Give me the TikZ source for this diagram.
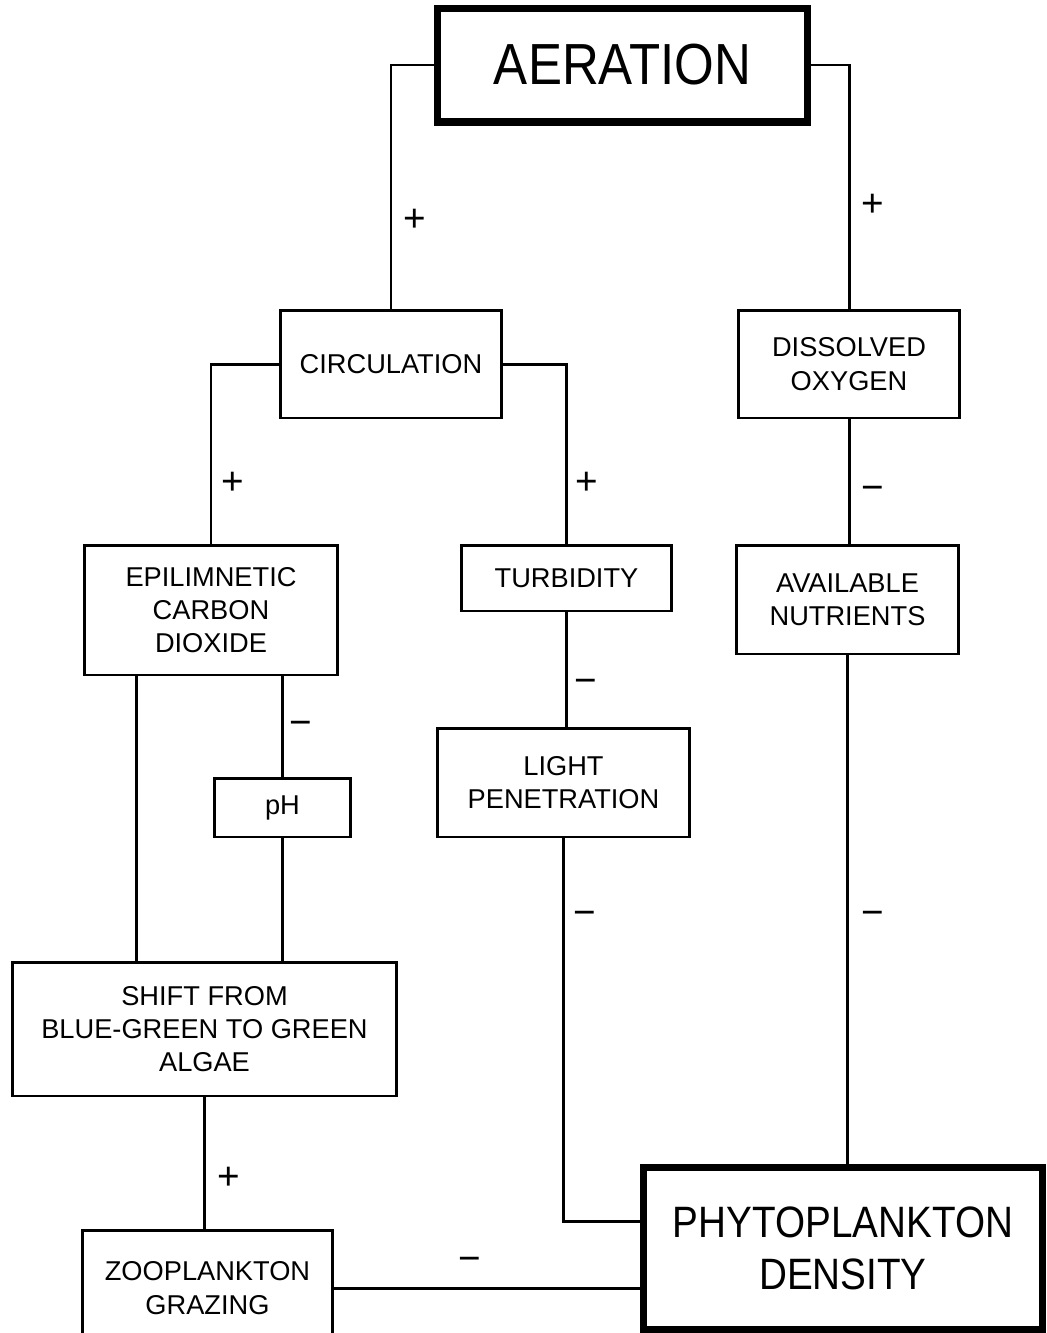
\documentclass[tikz,border=0pt]{standalone}
\usepackage{fontspec}
\setmainfont{Liberation Sans}
\newfontfamily\narrowfont[FakeStretch=0.88]{Liberation Sans}
\usetikzlibrary{calc}

\tikzset{
  box/.style={draw, line width=1.7pt, inner sep=0pt, align=center, font=\fontsize{15.5}{19}\selectfont},
  bigbox/.style={box, line width=4pt},
  sign/.style={inner sep=0pt, font=\fontsize{22}{22}\selectfont},
  link/.style={line width=1.7pt}
}

\begin{document}
\begin{tikzpicture}[x=0.02cm, y=-0.02cm]
		\useasboundingbox (0,0) rectangle (1046,1333);

		\node(aeration)  [bigbox, minimum width=7.42cm, minimum height=2.28cm, font=\narrowfont\fontsize{33}{33}\selectfont] at (622.5,65)  {AERATION};
		\node(circulation)  [box, minimum width=4.44cm, minimum height=2.16cm] at (391,364)  {CIRCULATION};
		\node(oxygen)  [box, minimum width=4.44cm, minimum height=2.16cm] at (849,364)  {DISSOLVED\\OXYGEN};
		\node(epilimnetic)  [box, minimum width=5.08cm, minimum height=2.6cm] at (211,610)  {EPILIMNETIC\\CARBON\\DIOXIDE};
		\node(turbidity)  [box, minimum width=4.22cm, minimum height=1.32cm] at (566.5,578)  {TURBIDITY};
		\node(nutrients)  [box, minimum width=4.46cm, minimum height=2.18cm] at (847.5,599.5)  {AVAILABLE\\NUTRIENTS};
		\node(light)  [box, minimum width=5.06cm, minimum height=2.18cm] at (563.5,782.5)  {LIGHT\\PENETRATION};
		\node(ph)  [box, minimum width=2.74cm, minimum height=1.18cm] at (282.5,807.5)  {pH};
		\node(shift)  [box, minimum width=7.7cm, minimum height=2.68cm] at (204.5,1029)  {SHIFT FROM\\BLUE-GREEN TO GREEN\\ALGAE};
		\node(zooplankton)  [box, minimum width=5.02cm, minimum height=2.32cm] at (207.5,1288)  {ZOOPLANKTON\\GRAZING};
		\node(phytoplankton)  [bigbox, minimum width=8cm, minimum height=3.26cm, font=\narrowfont\fontsize{25}{30}\selectfont] at (843,1248.5)  {PHYTOPLANKTON\\DENSITY};

		% signs on the links
		\node(sign1)  [sign] at (415,220)  {+};
		\node(sign2)  [sign] at (873,205)  {+};
		\node(sign3)  [sign] at (233,483)  {+};
		\node(sign4)  [sign] at (587,483)  {+};
		\node(sign5)  [sign] at (873,493)  {−};
		\node(sign6)  [sign] at (586,686)  {−};
		\node(sign7)  [sign] at (301,728)  {−};
		\node(sign8)  [sign] at (585,918)  {−};
		\node(sign9)  [sign] at (873,918)  {−};
		\node(sign10)  [sign] at (229,1178)  {+};
		\node(sign11)  [sign] at (470,1264)  {−};

		\draw[link] (aeration.west) -| (circulation.north);
		\draw[link] (aeration.east) -| (oxygen.north);
		\draw[link] (circulation.west) -| (epilimnetic.north);
		\draw[link] (circulation.east) -| (turbidity.north);
		\draw[link] (oxygen.south) -- (oxygen.south |- nutrients.north);
		\draw[link] (turbidity.south) -- (turbidity.south |- light.north);
		\draw[link] (ph.north |- epilimnetic.south) -- (ph.north);
		\coordinate (epileg) at ([xshift=1.08cm]epilimnetic.south west);
		\draw[link] (epileg) -- (epileg |- shift.north);
		\draw[link] (ph.south) -- (ph.south |- shift.north);
		\draw[link] (shift.south) -- (shift.south |- zooplankton.north);
		\draw[link] (zooplankton.east) -- (zooplankton.east -| phytoplankton.west);
		\draw[link] (light.south) |- ([yshift=0.54cm]phytoplankton.west);
		\draw[link] (nutrients.south) -- (nutrients.south |- phytoplankton.north);
\end{tikzpicture}
\end{document}
